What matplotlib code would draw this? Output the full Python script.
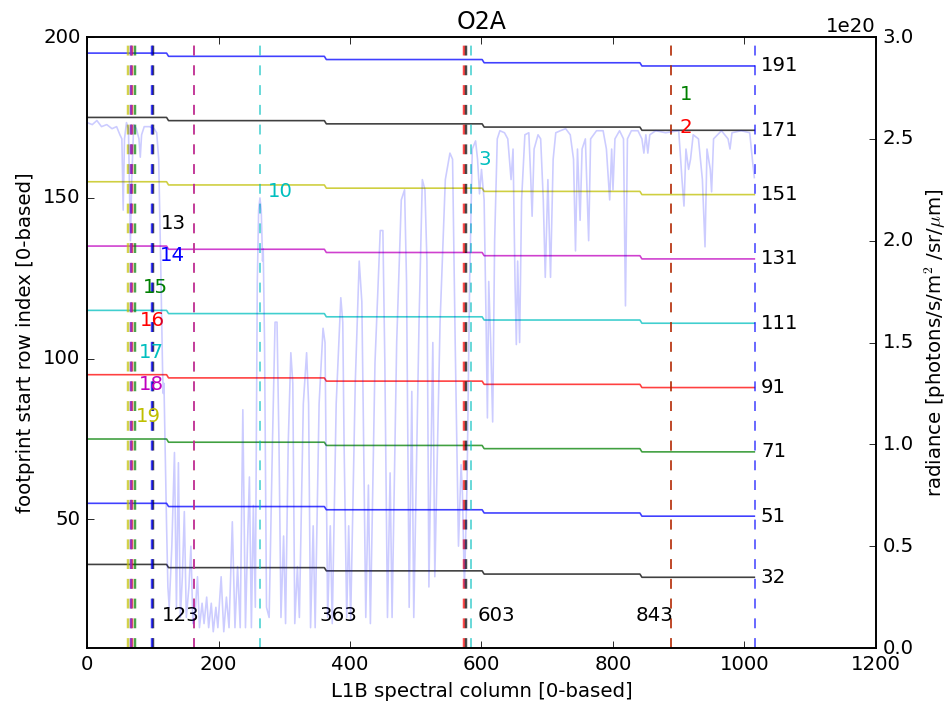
import numpy as np
import matplotlib
matplotlib.use('Agg')
import matplotlib.pyplot as plt

plt.style.use('classic')

# footprint rows: last value of each trace, top to bottom
row_labels = [191, 171, 151, 131, 111, 91, 71, 51, 32]
row_colors = ['b', 'k', 'y', 'm', 'c', 'r', 'g', 'b', 'k']
step_cols = [123, 363, 603, 843]
last_col = 1015

# marker columns (number, column, colour, label y)
mark_ids = [1, 2, 3, 10, 13, 14, 15, 16, 17, 18, 19]
mark_cols = [889, 889, 584, 263, 100, 99, 73, 68, 67, 67, 62]
mark_colors = ['g', 'r', 'c', 'c', 'k', 'b', 'g', 'r', 'c', 'm', 'y']
mark_label_y = [182, 172, 162, 152, 142, 132, 122, 112, 102, 92, 82]
mark_width = [1, 1, 1, 1, 1.5, 1.5, 1.5, 1.5, 1.5, 1.5, 1.5]
# marker columns without a visible label
extra_cols = [163, 163, 574, 577, 1016]
extra_colors = ['y', 'm', 'r', 'k', 'b']
extra_width = [1.2, 1.2, 1.5, 1.5, 1]

# O2A radiance spectrum (x 1e20 photons/s/m2/sr/um)
spec_col = [0, 8, 15, 22, 30, 38, 45, 50, 53, 55, 57, 60, 63, 66, 68, 71, 75, 79, 81, 83,
            87, 95, 102, 106, 109, 112, 115, 116, 117, 119, 121, 123,
            125, 129, 133, 136, 139, 142, 145, 148, 151, 155, 158, 161, 165, 168, 171, 175,
            178, 182, 185, 189, 192, 196, 199, 204, 208, 212, 216, 221, 225, 229, 233, 237,
            241, 244, 247, 250, 253, 256, 259, 261, 263, 265, 267, 268, 270, 273,
            277, 282, 286, 289, 292, 295, 299, 302, 306, 310, 313, 316, 320, 323, 329, 334,
            337, 340, 344, 347, 353, 359, 362, 366, 370, 373, 379, 386, 389, 391, 395, 398,
            401, 408, 414, 418, 420, 424, 428, 431, 438, 446, 450, 453, 457, 461, 464, 471,
            478, 483, 486, 490, 494, 497, 505, 510, 514, 517, 520, 526, 529, 537, 545, 552,
            556, 560, 565, 569, 571, 574, 578, 582, 586, 591, 594, 597, 600, 604, 607, 609,
            611, 614, 617, 620, 624, 628, 635, 640, 645, 648, 651, 653, 655, 658, 661, 666,
            672, 675, 677, 680, 686, 690, 694, 697, 701, 705, 709, 713, 720, 728, 735, 740,
            743, 746, 750, 753, 758, 763, 766, 775, 785, 790, 795, 798, 800, 803, 810, 816,
            819, 822, 828, 838, 844, 847, 850, 853, 856, 865, 880, 900, 905, 908, 911, 915,
            918, 922, 930, 936, 940, 943, 948, 950, 953, 965, 975, 978, 981, 995, 1008, 1012,
            1015]
spec_rad = [2.58, 2.57, 2.59, 2.56, 2.57, 2.55, 2.56, 2.52, 2.50, 2.15, 2.50, 2.58, 2.55, 2.00, 2.30, 2.57, 2.55, 2.50, 2.41, 2.52,
            2.56, 2.56, 2.55, 2.53, 2.40, 1.90, 1.35, 1.25, 1.30, 0.95, 0.60, 0.30,
            0.20, 0.50, 0.96, 0.20, 0.91, 0.15, 0.35, 0.67, 0.15, 0.30, 0.50, 0.12, 0.20, 0.35, 0.10, 0.22,
            0.12, 0.25, 0.10, 0.22, 0.08, 0.20, 0.10, 0.35, 0.08, 0.25, 0.10, 0.62, 0.10, 0.40, 0.10, 1.17,
            0.10, 0.50, 0.84, 0.10, 0.70, 0.20, 1.80, 2.15, 2.21, 2.15, 1.90, 1.96, 1.50, 0.20,
            0.15, 1.00, 1.60, 1.60, 1.00, 0.15, 0.55, 0.12, 1.00, 1.45, 1.30, 0.12, 0.40, 0.15, 1.20, 1.45,
            1.20, 0.10, 0.60, 0.10, 1.20, 1.57, 1.50, 0.15, 0.60, 0.12, 1.20, 1.72, 1.60, 1.00, 0.15, 0.60,
            0.14, 1.30, 1.90, 1.70, 1.20, 0.15, 0.80, 0.12, 1.40, 2.05, 2.05, 1.40, 0.15, 0.86, 0.15, 1.50,
            2.20, 2.25, 1.80, 0.20, 1.26, 0.15, 1.60, 2.30, 2.25, 1.90, 0.30, 1.50, 0.35, 1.60, 2.30, 2.43,
            2.40, 1.50, 0.50, 0.90, 0.76, 0.30, 0.80, 1.80, 2.45, 2.49, 2.40, 2.23, 2.35, 2.20, 1.60, 1.13,
            1.80, 1.50, 1.11, 2.00, 2.50, 2.54, 2.53, 2.50, 2.30, 2.45, 1.80, 1.49, 1.90, 1.50, 2.20, 2.52,
            2.53, 2.30, 2.12, 2.45, 2.52, 2.50, 2.20, 1.82, 2.30, 1.82, 2.40, 2.53, 2.54, 2.55, 2.52, 2.40,
            1.95, 2.45, 2.10, 2.45, 2.50, 2.00, 2.50, 2.54, 2.54, 2.45, 2.20, 2.45, 2.25, 2.50, 2.54, 2.50,
            1.68, 2.50, 2.54, 2.54, 2.50, 2.43, 2.52, 2.43, 2.52, 2.54, 2.53, 2.54, 2.30, 2.17, 2.45, 2.35,
            2.40, 2.52, 2.50, 2.30, 1.97, 2.45, 2.35, 2.24, 2.50, 2.54, 2.50, 2.45, 2.53, 2.54, 2.53, 2.40,
            2.31]

dpi = 118.5
fig = plt.figure(figsize=(948 / dpi, 708 / dpi), dpi=dpi, facecolor='white')
ax = fig.add_axes([0.0918, 0.0847, 0.8322, 0.863])

# row traces drop by one at every step column
n_steps = len(step_cols)
for lab, col in zip(row_labels, row_colors):
    xs = [0]
    ys = [lab + n_steps]
    for i, s in enumerate(step_cols):
        v = lab + n_steps - i
        xs += [s - 2, s + 1]
        ys += [v, v - 1]
    xs.append(last_col)
    ys.append(lab)
    ax.plot(xs, ys, color=col, lw=1, alpha=0.75)
    ax.text(last_col + 10, lab, str(lab), va='center', ha='left', fontsize=12)

for s in step_cols:
    ax.text(s - 9, 20, str(s), va='center', ha='left', fontsize=12)

for c, col, w in zip(extra_cols, extra_colors, extra_width):
    ax.axvline(c, color=col, ls='--', lw=w, alpha=0.7)

for n, c, col, ly, w in zip(mark_ids, mark_cols, mark_colors, mark_label_y, mark_width):
    ax.axvline(c, color=col, ls='--', lw=w, alpha=0.7)
    ax.text(c + 12, ly, str(n), color=col, va='center', ha='left', fontsize=12)

ax.set_xlim(0, 1200)
ax.set_ylim(10, 200)
ax.set_yticks([50, 100, 150, 200])
ax.set_xlabel('L1B spectral column [0-based]')
ax.set_ylabel('footprint start row index [0-based]')
ax.set_title('O2A')

ax2 = ax.twinx()
ax2.plot(spec_col, np.array(spec_rad) * 1e20, color='b', alpha=0.2, lw=1)
ax2.set_ylim(0, 3e20)
ax2.set_ylabel(r'radiance [photons/s/m$^2$ /sr/$\mu$m]')

fig.savefig('out.png', dpi=dpi, facecolor='white')
